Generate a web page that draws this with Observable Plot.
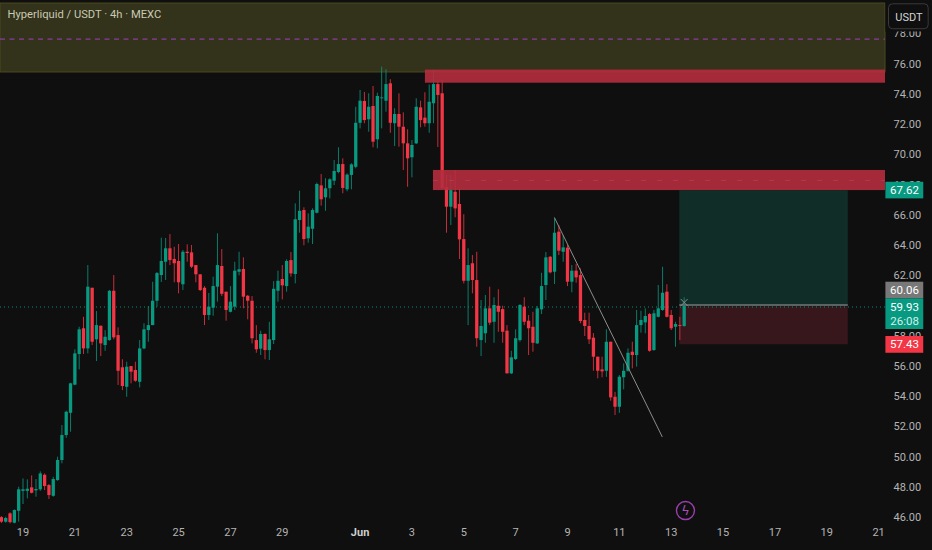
<!DOCTYPE html>
<html><head><meta charset="utf-8">
<script src="https://cdn.jsdelivr.net/npm/d3@7"></script>
<script src="https://cdn.jsdelivr.net/npm/@observablehq/plot@0.6"></script>
<style>html,body{margin:0;padding:0;background:#0f0f0f;overflow:hidden}svg{display:block}</style>
</head><body><div id="chart"></div>
<script>
// 4h candles
const direction = ("rgrggggrgg"+"rrgggggggr"+"grgrggrrrg"+"rrgggggggr"+"rrgrrrrrgg"+"grrgggrrrr"+"grgggrgrgg"+"rgggrggggr"+"ggggrgrggg"+"rgrrrggrrg"+"grrrgrrrgr"+"rggrgrrrgg"+"grrrgggrgr"+"grgrrrrrrr"+"grrgggrggg"+"rgggrrgrg").split("");
const highs = [46.07,46.03,46.32,46.51,48.01,48.56,48.50,48.76,48.52,49.03,
48.89,48.19,48.67,50.00,52.09,53.04,54.89,57.10,58.59,59.25,
62.67,61.17,59.63,58.66,58.37,61.02,62.01,58.55,56.44,56.28,
55.99,56.28,57.71,58.82,59.96,61.57,62.21,64.48,64.46,64.72,
63.88,64.06,63.67,64.04,64.00,62.67,62.06,61.28,60.82,61.90,
64.77,63.73,60.91,61.28,62.89,63.55,63.18,60.69,60.62,58.70,
58.33,58.16,58.92,61.61,62.30,62.67,63.05,63.53,66.75,67.59,
66.49,66.09,66.42,68.12,68.69,68.41,68.41,69.62,70.46,69.73,
68.74,69.40,73.14,74.25,74.12,74.03,74.51,74.07,75.79,75.62,
74.96,73.04,74.03,72.77,71.65,70.94,73.70,73.54,74.10,74.62,
75.57,74.86,74.91,68.63,68.63,68.96,67.75,66.03,63.78,63.33,
63.55,60.36,60.69,61.24,60.54,61.07,59.98,58.70,57.00,58.42,
60.09,60.54,59.37,59.58,59.96,62.16,63.53,63.27,65.76,65.32,
64.66,64.00,62.67,62.74,62.45,59.52,59.52,58.17,56.61,56.61,
58.42,57.60,54.29,55.40,56.17,57.16,57.60,59.70,59.65,59.81,
59.50,59.70,61.35,62.56,61.40,59.70,58.92,59.25,60.54];
const bodyTops = [46.00,45.94,46.25,46.47,47.84,47.84,47.88,47.97,47.86,48.89,
48.80,48.12,48.52,49.78,51.43,52.97,54.85,56.83,58.42,58.49,
61.24,61.17,58.70,58.66,57.93,60.97,60.97,58.04,55.91,55.95,
55.99,55.73,57.16,58.42,58.70,60.31,62.14,62.94,63.78,63.78,
63.07,62.94,63.55,63.55,63.51,62.67,62.06,61.17,59.92,61.28,
62.67,62.61,60.91,60.25,62.30,62.39,62.41,60.64,60.31,57.71,
58.11,58.11,57.76,61.10,61.63,61.75,62.94,63.00,65.70,66.26,
66.31,65.21,66.31,68.03,67.94,67.75,68.34,68.89,69.35,69.35,
68.65,69.33,72.08,73.54,73.52,73.14,73.19,73.85,73.76,74.64,
74.69,72.66,72.66,71.82,70.72,70.61,73.14,73.10,72.42,73.47,
74.64,74.64,74.03,67.83,67.63,67.52,66.71,64.39,62.67,62.79,
61.68,58.64,59.81,59.81,60.03,59.98,59.76,58.33,56.57,57.83,
60.03,59.92,58.99,58.59,59.81,61.28,63.18,63.22,64.81,64.88,
63.84,63.82,62.30,62.30,62.01,59.04,58.64,57.87,56.61,55.77,
57.60,57.60,53.96,55.29,55.68,56.87,56.94,58.70,59.04,59.30,
59.43,59.48,59.81,60.84,60.91,59.37,58.77,58.70,59.96];
const bodyBottoms = [45.70,45.70,45.67,45.63,46.42,47.74,47.74,47.61,47.77,47.84,
48.06,47.46,47.41,48.45,49.78,51.43,52.90,54.76,56.79,57.16,
57.16,57.60,57.76,57.49,57.38,57.71,57.89,55.68,54.67,54.62,
55.62,55.02,54.95,57.16,58.37,58.70,60.31,62.01,62.89,63.00,
62.79,61.53,61.40,63.47,62.56,62.06,61.02,59.37,59.37,59.85,
61.24,60.77,59.70,59.58,59.92,62.23,60.58,60.31,57.83,57.10,
57.14,57.05,57.05,57.71,60.97,61.33,61.28,62.12,62.08,65.65,
64.39,64.44,65.07,66.13,67.02,67.15,67.75,68.25,68.82,67.77,
67.68,68.63,69.17,72.08,72.26,72.31,70.83,70.99,73.70,73.54,
72.08,72.05,71.82,70.72,69.73,69.80,70.72,72.26,72.05,72.05,
73.37,73.92,67.75,66.53,66.53,66.42,64.37,61.63,61.63,61.68,
57.83,57.71,58.16,58.86,58.92,59.58,58.26,55.51,55.51,56.46,
57.71,58.92,58.49,57.53,57.49,59.74,61.35,62.19,62.23,63.62,
63.55,61.57,61.57,61.86,58.97,58.64,57.76,56.61,55.68,55.64,
55.68,53.92,53.30,53.30,55.25,55.68,56.72,56.72,58.70,58.88,
57.00,57.05,59.25,59.70,59.25,58.49,58.59,58.64,58.64];
const lows = [45.61,45.63,45.59,45.59,45.70,46.87,47.24,47.57,47.35,47.74,
47.79,47.20,47.35,48.41,49.56,51.25,51.65,54.72,55.77,56.79,
56.83,57.38,56.32,56.65,57.00,57.67,57.76,54.74,54.40,53.96,
54.85,54.95,54.58,57.10,57.60,58.70,59.92,61.55,61.68,62.67,
61.53,60.80,61.02,62.89,62.47,61.53,60.95,58.70,59.04,59.32,
60.25,60.62,58.99,59.54,59.70,61.99,59.81,59.08,57.49,56.87,
56.72,56.44,56.39,57.45,60.25,60.40,60.91,61.90,61.46,64.81,
63.98,64.15,64.06,66.09,66.60,66.26,67.08,67.96,68.74,67.42,
67.55,67.68,69.07,71.71,72.05,71.49,70.46,70.39,71.71,72.81,
71.42,70.54,70.50,68.96,67.85,68.47,70.68,71.78,71.82,71.42,
72.05,70.48,67.75,64.81,65.32,65.83,63.07,61.46,58.70,60.80,
57.27,56.65,57.53,58.70,57.53,58.26,57.53,55.51,55.46,56.39,
57.60,58.70,56.72,56.94,57.45,59.43,60.36,62.12,61.42,63.33,
62.89,61.28,60.87,61.50,58.82,57.98,57.45,55.68,55.18,55.25,
55.28,53.70,52.75,52.90,54.45,55.62,55.84,55.95,58.20,58.16,
56.94,57.00,59.21,59.65,59.21,58.37,57.27,57.71,58.59];

const firstCandle = Date.UTC(2025,4,18,4);
const candleHours = 4;
const day = 86400000;
const may19 = Date.UTC(2025,4,19);
const at = d => new Date(may19 + d*day);

const candles = direction.map((dir,i)=>({
  t:new Date(firstCandle+i*candleHours*3600000), dir,
  high:highs[i], low:lows[i], top:bodyTops[i], bottom:bodyBottoms[i]
}));

const priceTicks = [46,48,50,52,54,56,58,60,62,64,66,68,70,72,74,76,78];
const dayTicks = [[4,19],[4,21],[4,23],[4,25],[4,27],[4,29],[5,3],[5,5],[5,7],[5,9],[5,11],[5,13],[5,15],[5,17],[5,19],[5,21]].map(([m,d])=>new Date(Date.UTC(2025,m,d)));
const monthTick = [new Date(Date.UTC(2025,5,1))];

const UP="#089981", DOWN="#f23645", AXIS="#b4b4b4", BG="#0f0f0f";
const lastPrice=59.93, markPrice=60.06, targetPrice=67.62, stopPrice=57.43;
const paneEnd=at(33.265);
const boxStart=at(25.33), boxEnd=at(31.83);
const trendDays=[20.5,24.65], trendPrices=[65.83,51.36];

const zones=[{y1:75.44,y2:80.0,x1:at(-0.868),x2:paneEnd,fill:"#33321a"}];
const redZones=[{y1:74.73,y2:75.6,x1:at(15.52)},{y1:67.63,y2:68.96,x1:at(15.83)}];

const tags=[
 {y1:67.08,y2:68.18,fill:UP},
 {y1:60.47,y2:61.57,fill:"#787878"},
 {y1:58.44,y2:60.47,fill:UP},
 {y1:56.87,y2:57.98,fill:DOWN}];
const tagTexts=[
 {y:67.62,text:"67.62",fill:"#ffffff"},
 {y:61.02,text:"60.06",fill:"#ffffff"},
 {y:59.92,text:"59.93",fill:"#ffffff"},
 {y:58.99,text:"26:08",fill:"#d3f0e9"},
 {y:57.43,text:"57.43",fill:"#ffffff"}];

const chart = Plot.plot({
  width:932,height:550,marginLeft:0,marginRight:47,marginTop:0,marginBottom:25,
  style:{background:BG,color:AXIS,fontFamily:"Roboto, sans-serif",fontSize:"11px"},
  x:{type:"utc",domain:[at(-0.868),paneEnd],axis:null},
  y:{domain:[45.48,80.2],axis:null},
  marks:[
    // long position box
    Plot.rect([{y1:lastPrice,y2:targetPrice}],{x1:boxStart,x2:boxEnd,y1:"y1",y2:"y2",fill:"#112d28"}),
    Plot.rect([{y1:stopPrice,y2:lastPrice}],{x1:boxStart,x2:boxEnd,y1:"y1",y2:"y2",fill:"#37161c"}),
    Plot.ruleY([markPrice],{x1:boxStart,x2:boxEnd,stroke:"#747474",strokeWidth:1.4}),
    // top olive zone
    Plot.rect(zones,{x1:"x1",x2:"x2",y1:"y1",y2:"y2",fill:"fill",stroke:"#4a4a20",strokeWidth:1}),
    Plot.ruleY([77.65],{x1:zones[0].x1,x2:paneEnd,stroke:"#8f3aa3",strokeWidth:1.2,strokeDasharray:"5,4.5"}),
    // dotted last price line
    Plot.ruleY([lastPrice],{x1:zones[0].x1,x2:paneEnd,stroke:UP,strokeDasharray:"1,3",strokeOpacity:.9}),
    // candles
    Plot.ruleX(candles.filter(d=>d.dir==="g"),{x:"t",y1:"low",y2:"high",stroke:UP,strokeOpacity:.8,strokeWidth:1}),
    Plot.ruleX(candles.filter(d=>d.dir==="r"),{x:"t",y1:"low",y2:"high",stroke:DOWN,strokeOpacity:.8,strokeWidth:1}),
    Plot.ruleX(candles.filter(d=>d.dir==="g"),{x:"t",y1:"bottom",y2:"top",stroke:UP,strokeWidth:3.3}),
    Plot.ruleX(candles.filter(d=>d.dir==="r"),{x:"t",y1:"bottom",y2:"top",stroke:DOWN,strokeWidth:3.3}),
    // red supply zones
    Plot.rect(redZones,{x1:"x1",x2:paneEnd,y1:"y1",y2:"y2",fill:"#b52c3e",fillOpacity:.9}),
    Plot.ruleY([68.3],{x1:redZones[1].x1,x2:paneEnd,stroke:"#c8475a",strokeDasharray:"5,11",strokeOpacity:.5}),
    // trend line
    Plot.line(trendDays.map((d,i)=>({t:at(d),p:trendPrices[i]})),{x:"t",y:"p",stroke:"#8e8e8a",strokeWidth:1}),
    Plot.dot([{t:candles[158].t,p:60.23}],{x:"t",y:"p",symbol:"times",r:3.2,stroke:"#8c8c8c",strokeWidth:1}),
    // flash icon
    Plot.dot([{t:at(25.55),p:46.47}],{x:"t",y:"p",r:9,stroke:"#9b3fae",strokeWidth:1.4,fill:"none"}),
    Plot.text([{t:at(25.55),p:46.47}],{x:"t",y:"p",text:()=>"ϟ",fill:"#a84cbd",fontSize:13,fontFamily:"DejaVu Sans"}),
    // axes
    Plot.axisY(priceTicks,{anchor:"right",tickSize:0,tickPadding:8,tickFormat:d=>d.toFixed(2),fontSize:11,label:null,fill:AXIS}),
    Plot.axisX(dayTicks,{anchor:"bottom",tickSize:0,tickPadding:3,tickFormat:d=>String(d.getUTCDate()),fontSize:11,label:null,fill:AXIS}),
    Plot.axisX(monthTick,{anchor:"bottom",tickSize:0,tickPadding:3,tickFormat:()=>"Jun",fontSize:11,fontWeight:"bold",label:null,fill:"#d0d0d0"}),
    // price tags
    Plot.rect(tags,{x1:at(33.28),x2:at(34.74),y1:"y1",y2:"y2",fill:"fill"}),
    Plot.text(tagTexts,{x:at(34.0),y:"y",text:"text",fill:"fill",fontSize:11.5}),
    // unit button
    Plot.rect([{y1:78.12,y2:80.2}],{x1:at(33.28),x2:at(35.2),y1:"y1",y2:"y2",fill:BG}),
    Plot.rect([{y1:78.3,y2:79.95}],{x1:at(33.4),x2:at(34.93),y1:"y1",y2:"y2",rx:4,fill:BG,stroke:"#3a3a3a"}),
    Plot.text([{y:79.08}],{x:at(34.17),y:"y",text:()=>"USDT",fill:"#d6d6d6",fontSize:11}),
    // title
    Plot.text(["Hyperliquid / USDT · 4h · MEXC"],{frameAnchor:"top-left",dx:7,dy:10,text:d=>d,fill:"#c9c9b4",fontSize:11.2})
  ]
});
document.getElementById("chart").append(chart);
</script></body></html>
